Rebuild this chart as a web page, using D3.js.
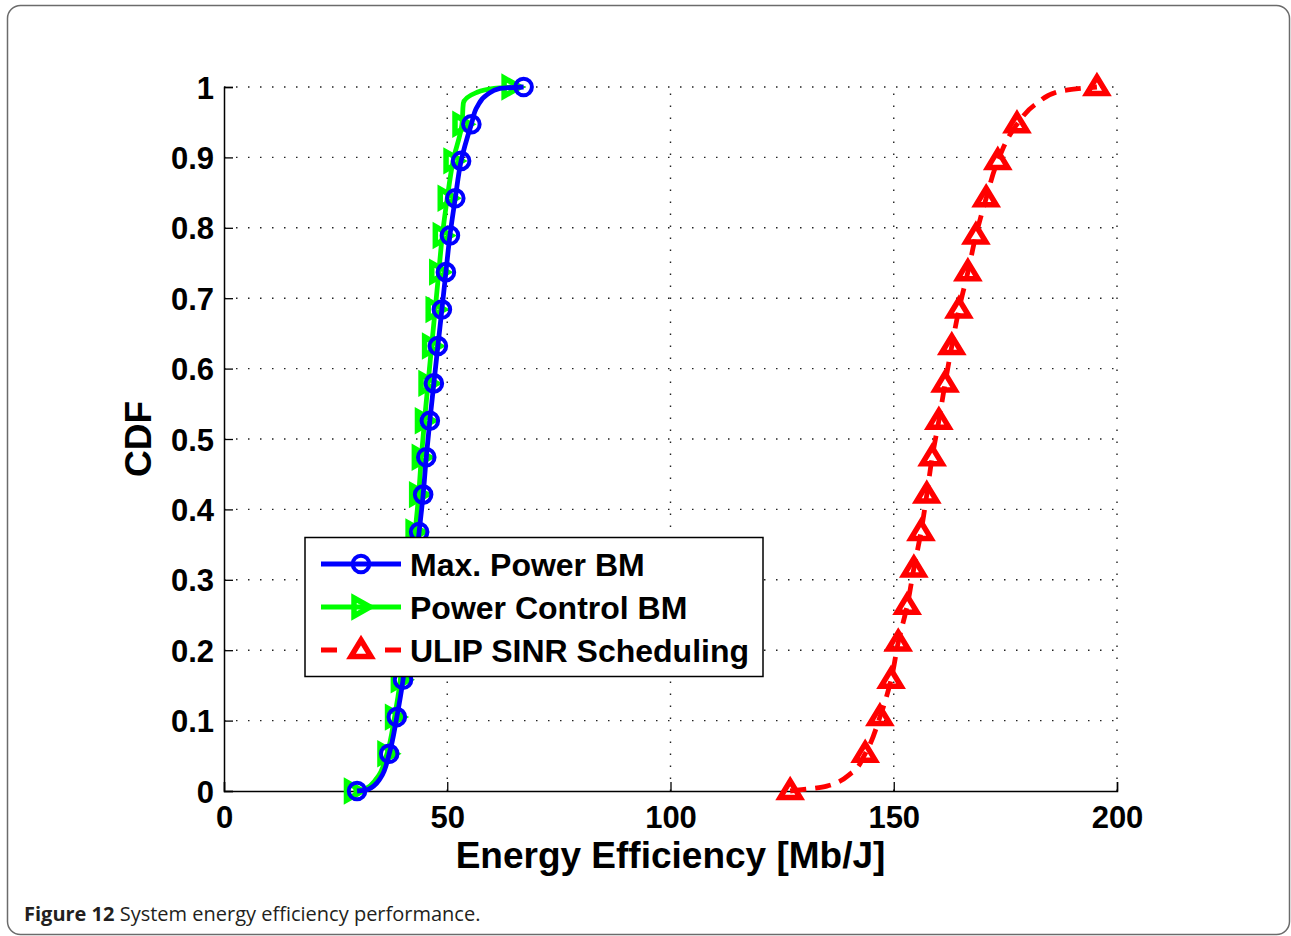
<!DOCTYPE html>
<html>
<head>
<meta charset="utf-8">
<script src="https://cdn.jsdelivr.net/npm/d3@7"></script>
<style>
  body { margin: 0; background: #fff; }
  svg { display: block; }
</style>
</head>
<body>
<div id="chart"></div>
<script>
// CDF levels where the markers sit (same for all three curves)
var markerCdf = [0, 0.053, 0.105, 0.158, 0.211, 0.263, 0.316, 0.368, 0.421, 0.474,
                 0.526, 0.579, 0.632, 0.684, 0.737, 0.789, 0.842, 0.895, 0.947, 1.0];

// energy efficiency [Mb/J] at each marker
var maxPowerX  = [29.8, 37.0, 38.7, 40.1, 41.0, 41.9, 42.8, 43.7, 44.6, 45.3,
                  46.1, 47.0, 47.9, 48.8, 49.7, 50.6, 51.8, 53.1, 55.4, 67.1];
var powerCtrlX = [29.0, 36.5, 38.2, 39.5, 40.3, 41.1, 41.9, 42.8, 43.6, 44.2,
                  44.9, 45.7, 46.5, 47.3, 48.1, 48.9, 50.0, 51.3, 53.3, 64.3];
var ulipX      = [126.8, 143.6, 146.9, 149.4, 151.0, 153.0, 154.5, 156.1, 157.4, 158.6,
                  160.1, 161.5, 163.0, 164.6, 166.6, 168.4, 170.7, 173.3, 177.6, 195.5];

var maxPowerBends  = [[32.2, 0.002], [35.0, 0.018], [56.7, 0.972], [58.9, 0.989], [61.8, 0.998]];
var powerCtrlBends = [[31.4, 0.002], [34.2, 0.018], [53.6, 0.977], [56.5, 0.992], [60.5, 0.998]];
var ulipBends      = [[135.0, 0.007], [140.6, 0.026], [181.9, 0.976], [187.2, 0.994]];

var seriesNames = ["Max. Power BM", "Power Control BM", "ULIP SINR Scheduling"];
var xTicks = [0, 50, 100, 150, 200];
var yTicks = [0, 0.1, 0.2, 0.3, 0.4, 0.5, 0.6, 0.7, 0.8, 0.9, 1];

var W = 1291, H = 936;
var plot = { left: 224, top: 87, right: 1117, bottom: 791 };
var fontFam = "'Liberation Sans', Arial, Helvetica, sans-serif";

var svg = d3.select("#chart").append("svg")
    .attr("width", W)
    .attr("height", H);

// outer figure frame
svg.append("rect")
    .attr("x", 7.5).attr("y", 5.5)
    .attr("width", W - 9).attr("height", H - 7)
    .attr("rx", 13).attr("ry", 13)
    .attr("fill", "none")
    .attr("stroke", "#6b6b6b")
    .attr("stroke-width", 1.5);

var x = d3.scaleLinear().domain([0, 200]).range([plot.left, plot.right]);
var y = d3.scaleLinear().domain([0, 1]).range([plot.bottom, plot.top]);

// dotted grid
var grid = svg.append("g")
    .attr("stroke", "#222")
    .attr("stroke-width", 1.4)
    .attr("stroke-dasharray", "1.5,10.5");

yTicks.filter(function(d) { return d > 0; }).forEach(function(d) {
  grid.append("line")
      .attr("x1", plot.left).attr("x2", plot.right)
      .attr("y1", y(d)).attr("y2", y(d));
});
xTicks.filter(function(d) { return d > 0; }).forEach(function(d) {
  grid.append("line")
      .attr("x1", x(d)).attr("x2", x(d))
      .attr("y1", plot.bottom).attr("y2", plot.top);
});

// axes (left and bottom only, ticks inside)
var xAxis = d3.axisBottom(x).tickValues(xTicks).tickSize(-9).tickPadding(15)
    .tickFormat(d3.format("d"));
var yAxis = d3.axisLeft(y).tickValues(yTicks).tickSize(-9).tickPadding(10)
    .tickFormat(function(d) { return d === 0 || d === 1 ? d3.format("d")(d) : d3.format(".1f")(d); });

var gx = svg.append("g")
    .attr("transform", "translate(0," + plot.bottom + ")")
    .call(xAxis);
var gy = svg.append("g")
    .attr("transform", "translate(" + plot.left + ",0)")
    .call(yAxis);

[gx, gy].forEach(function(g) {
  g.select(".domain").attr("stroke", "#000").attr("stroke-width", 1.5);
  g.selectAll(".tick line").attr("stroke", "#000").attr("stroke-width", 1.3);
  g.selectAll(".tick text")
      .attr("fill", "#000")
      .style("font-family", fontFam)
      .style("font-size", "31px")
      .style("font-weight", "bold");
});
gx.selectAll(".tick text").attr("dy", "0.71em");
gy.selectAll(".tick text").attr("dy", "0.36em");

// axis titles
svg.append("text")
    .attr("x", x(100)).attr("y", 868)
    .attr("text-anchor", "middle")
    .style("font-family", fontFam)
    .style("font-size", "37px")
    .style("font-weight", "bold")
    .text("Energy Efficiency [Mb/J]");

svg.append("text")
    .attr("transform", "translate(151," + ((plot.top + plot.bottom) / 2) + ") rotate(-90)")
    .attr("text-anchor", "middle")
    .style("font-family", fontFam)
    .style("font-size", "37px")
    .style("font-weight", "bold")
    .text("CDF");

// marker shapes
var circleMarker = function(g, cx, cy, color) {
  g.append("circle")
      .attr("cx", cx).attr("cy", cy).attr("r", 8.3)
      .attr("fill", "none")
      .attr("stroke", color)
      .attr("stroke-width", 4);
};
var rightTriMarker = function(g, cx, cy, color) {
  g.append("path")
      .attr("d", "M" + (cx + 9) + "," + cy + "L" + (cx - 7) + "," + (cy - 9) + "L" + (cx - 7) + "," + (cy + 9) + "Z")
      .attr("fill", "none")
      .attr("stroke", color)
      .attr("stroke-width", 5.5);
};
var upTriMarker = function(g, cx, cy, color) {
  g.append("path")
      .attr("d", "M" + cx + "," + (cy - 10) + "L" + (cx + 10) + "," + (cy + 6.5) + "L" + (cx - 10) + "," + (cy + 6.5) + "Z")
      .attr("fill", "none")
      .attr("stroke", color)
      .attr("stroke-width", 5.5);
};

var series = [
  { name: seriesNames[1], xs: powerCtrlX, bends: powerCtrlBends, color: "#00ff00", dash: null, marker: rightTriMarker },
  { name: seriesNames[0], xs: maxPowerX, bends: maxPowerBends, color: "#0000ff", dash: null, marker: circleMarker },
  { name: seriesNames[2], xs: ulipX, bends: ulipBends, color: "#ff0000", dash: "16,9", marker: upTriMarker }
];

var line = d3.line()
    .x(function(d) { return x(d[0]); })
    .y(function(d) { return y(d[1]); })
    .curve(d3.curveMonotoneY);

series.forEach(function(s) {
  var pts = s.xs.map(function(v, i) { return [v, markerCdf[i]]; }).concat(s.bends);
  pts.sort(function(a, b) { return a[1] - b[1]; });

  var g = svg.append("g");
  g.append("path")
      .datum(pts)
      .attr("d", line)
      .attr("fill", "none")
      .attr("stroke", s.color)
      .attr("stroke-width", 4.8)
      .attr("stroke-dasharray", s.dash)
      .attr("stroke-linejoin", "round");

  s.xs.forEach(function(v, i) {
    s.marker(g, x(v), y(markerCdf[i]), s.color);
  });
});

// legend
var legend = svg.append("g");
legend.append("rect")
    .attr("x", 305).attr("y", 537.5)
    .attr("width", 458).attr("height", 139)
    .attr("fill", "#fff")
    .attr("stroke", "#000")
    .attr("stroke-width", 1.5);

var legendItems = [series[1], series[0], series[2]];
legendItems.forEach(function(s, i) {
  var ly = 564 + i * 43;
  legend.append("line")
      .attr("x1", 321).attr("x2", 401)
      .attr("y1", ly).attr("y2", ly)
      .attr("stroke", s.color)
      .attr("stroke-width", 4.8)
      .attr("stroke-dasharray", s.dash ? "16,48,16" : null);
  s.marker(legend, 361, ly, s.color);
  legend.append("text")
      .attr("x", 410).attr("y", ly + 12)
      .style("font-family", fontFam)
      .style("font-size", "32px")
      .style("font-weight", "bold")
      .text(s.name);
});

// caption
var caption = svg.append("text")
    .attr("x", 24).attr("y", 921)
    .attr("fill", "#231f20")
    .style("font-family", "'Open Sans', 'Noto Sans', sans-serif")
    .style("font-size", "20px");
caption.append("tspan").style("font-weight", "bold").text("Figure 12");
caption.append("tspan").text(" System energy efficiency performance.");
</script>
</body>
</html>
